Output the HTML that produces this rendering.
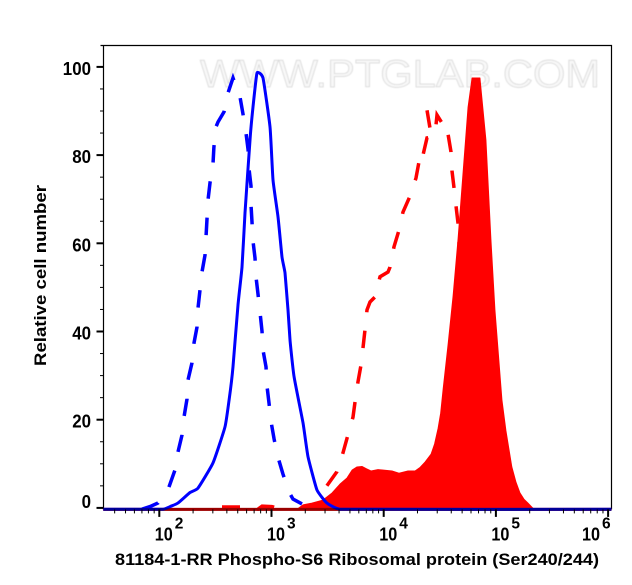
<!DOCTYPE html>
<html>
<head>
<meta charset="utf-8">
<style>
html,body{margin:0;padding:0;background:#fff;}
svg{display:block;}
text{font-family:"Liberation Sans",Arial,sans-serif;font-weight:bold;fill:#000;}
</style>
</head>
<body>
<svg id="chart" width="632" height="585" viewBox="0 0 632 585" xmlns="http://www.w3.org/2000/svg">
  <rect x="0" y="0" width="632" height="585" fill="#fff"/>
  <g id="watermark-layer">
    <text x="200" y="87" font-size="39" textLength="400" lengthAdjust="spacingAndGlyphs" style="font-weight:normal;fill:#f8f8f8;stroke:#d6d6d6;stroke-width:.7;filter:blur(.4px)">WWW.PTGLAB.COM</text>
  </g>
  <g id="series-layer"></g>
  <g id="axis-layer"></g>
  <text x="115" y="565" font-size="17" textLength="484" lengthAdjust="spacingAndGlyphs">81184-1-RR Phospho-S6 Ribosomal protein (Ser240/244)</text>
  <text transform="translate(46,366) rotate(-90)" font-size="17" textLength="181" lengthAdjust="spacingAndGlyphs">Relative cell number</text>
</svg>
<script>
// Data: log10 fluorescence intensity and relative cell number
const filledLog = [1.5,3.227,3.281,3.361,3.459,3.539,3.61,3.673,3.718,3.762,3.807,3.847,3.887,3.949,4.074,4.136,4.217,4.279,4.324,4.368,4.422,4.453,4.484,4.507,4.529,4.573,4.618,4.662,4.707,4.751,4.787,4.858,4.912,4.956,4.992,5.054,5.09,5.143,5.18,5.215,5.25,5.286,5.339,6.03];
const filledCount = [-0.3,-0.3,0.7,1.1,1.8,3.4,5.4,6.8,8.6,9.3,9.4,8.9,8.4,8.7,8.4,7.9,8.4,8.4,9.2,10.4,12.2,14.5,18,21.5,27,37,48,61,76,90.9,97.5,97.5,83.4,60.8,44.9,24.5,17.5,9.3,5.8,3.4,2,1.1,-0.3,-0.3];
const solidBlueLog = [1.5,2.033,2.096,2.167,2.274,2.345,2.479,2.586,2.622,2.657,2.701,2.737,2.764,2.808,2.835,2.871,2.924,2.987,3.013,3.058,3.094,3.12,3.147,3.165,3.201,3.281,3.325,3.405,3.494,3.61,6.03];
const solidBlueCount = [-0.3,-0.3,0.3,1.1,3.5,4.5,10.2,18.4,24.5,32,46,54.6,66.9,83.4,90.9,98.6,97.5,86.4,74.4,66,56.9,53.3,44.9,38.1,29.7,19.3,11.6,4.1,1.1,-0.3,-0.3];
const dashedBlueLog = [1.846,1.917,1.988,2.086,2.14,2.167,2.202,2.22,2.247,2.256,2.291,2.309,2.336,2.345,2.363,2.381,2.407,2.416,2.425,2.434,2.452,2.479,2.487,2.505,2.523,2.577,2.612,2.657,2.719,2.746,2.773,2.791,2.799,2.817,2.817,2.826,2.835,2.853,2.862,2.88,2.898,2.915,2.924,2.951,2.96,2.978,2.996,3.023,3.058,3.102,3.156,3.192,3.272];
const dashedBlueCount = [-0.3,0.3,1.1,4.7,8.6,12.7,16.5,20.6,24.7,29,32.9,37.4,41,45.3,49.4,53.5,57.3,61.4,65.5,69.8,73.7,78,81.8,86.4,87.5,89.8,94.1,97.5,93.2,89.3,85,81.2,77.1,73,68.7,64.8,60.5,56.7,52.4,48.5,44.2,40.1,35.8,32,27.6,23.8,19.5,15.6,11.5,7.7,3.6,2,0.9];
const redBaselineLog = [2.559,2.737,2.764,2.88,2.916,3.004,3.058];
const redBaselineCount = [0.2,0.2,-0.3,-0.3,0.4,0.3,-0.1];
const dashedRedLog = [3.494,3.583,3.637,3.682,3.726,3.744,3.771,3.798,3.816,3.833,3.851,3.878,3.922,3.967,4.038,4.056,4.092,4.136,4.172,4.234,4.288,4.315,4.359,4.35,4.386,4.466,4.413,4.386,4.466,4.475,4.502,4.52,4.6,4.573,4.6,4.609,4.627,4.645,4.662,4.671,4.725,4.858,4.992,5.125];
const dashedRedCount = [5,8.2,12.5,16.6,20.6,24,28.6,32.4,36.5,40.4,44.9,46.7,47.8,52.4,53.5,54.6,59.2,63,67.1,70.7,74.8,78.5,77.8,80,83.9,84.3,86.1,90.2,86.8,89.1,88,87.3,85.7,84.8,80.7,76.4,72.6,68.3,64.6,60.1,38,13,1.8,-0.3];
const yTickValues = [0,20,40,60,80,100];
const yMinorValues = [5,10,15,25,30,35,45,50,55,65,70,75,85,90,95,105];
const xTickExponents = [2,3,4,5,6];
const xMinorMultipliers = [2,3,4,5,6,7,8,9];
const xTickBase = "10";

const NS = "http://www.w3.org/2000/svg";
const xScale = d => 159.3 + (d - 2) * 112.2;
const yScale = v => 507.9 - v * 4.41;
const plotLeft = 103.5, plotRight = 611.5, plotTop = 45.5, plotBottom = 509.4;
const seriesLayer = document.getElementById('series-layer');
const axisLayer = document.getElementById('axis-layer');

function pathFrom(logs, counts) {
  return logs.map((d, i) => (i ? 'L' : 'M') + xScale(d).toFixed(1) + ' ' + yScale(counts[i]).toFixed(1)).join(' ');
}
function smoothFrom(logs, counts) {
  const p = logs.map((d, i) => [xScale(d), yScale(counts[i])]);
  let s = 'M' + p[0][0].toFixed(1) + ' ' + p[0][1].toFixed(1);
  for (let i = 0; i < p.length - 1; i++) {
    const a = p[Math.max(i - 1, 0)], b = p[i], c = p[i + 1], e = p[Math.min(i + 2, p.length - 1)];
    const k = 14;
    const span = c[0] - b[0];
    const c1x = b[0] + Math.min((c[0] - a[0]) / k, span / 3), c1y = b[1] + (c[1] - a[1]) / k;
    const c2x = c[0] - Math.min((e[0] - b[0]) / k, span / 3), c2y = c[1] - (e[1] - b[1]) / k;
    s += ' C' + c1x.toFixed(1) + ' ' + c1y.toFixed(1) + ' ' + c2x.toFixed(1) + ' ' + c2y.toFixed(1) + ' ' + c[0].toFixed(1) + ' ' + c[1].toFixed(1);
  }
  return s;
}
function make(tag, attrs, parent) {
  const el = document.createElementNS(NS, tag);
  for (const k in attrs) el.setAttribute(k, attrs[k]);
  parent.appendChild(el);
  return el;
}

const frame = make('path', {d: `M${plotLeft} ${plotBottom} V${plotTop} M${plotLeft - 3} ${plotTop} H${plotRight} V${plotBottom}`, fill: 'none', stroke: '#000', 'stroke-width': 1.2}, seriesLayer);



const redLine = make('line', {x1: xScale(1.5), x2: xScale(6.03), y1: plotBottom, y2: plotBottom, stroke: '#ff0000', 'stroke-width': 3}, seriesLayer);



const filled = make('path', {d: pathFrom(filledLog, filledCount) + ' Z', fill: '#ff0000', stroke: '#ff0000', 'stroke-width': 0.8, 'stroke-linejoin': 'round'}, seriesLayer);



const dashedBlue = make('path', {d: pathFrom(dashedBlueLog, dashedBlueCount), fill: 'none', stroke: '#0000ff', 'stroke-width': 3.5, 'stroke-dasharray': '17.5 19'}, seriesLayer);



const solidBlue = make('path', {d: smoothFrom(solidBlueLog, solidBlueCount), fill: 'none', stroke: '#0000ff', 'stroke-width': 3, 'stroke-linejoin': 'round'}, seriesLayer);



const redBase = make('path', {d: pathFrom(redBaselineLog, redBaselineCount), fill: 'none', stroke: '#ff0000', 'stroke-width': 3.5, 'stroke-dasharray': '18 18'}, seriesLayer);



const dashedRed = make('path', {d: pathFrom(dashedRedLog, dashedRedCount), fill: 'none', stroke: '#ff0000', 'stroke-width': 3.5, 'stroke-dasharray': '17.5 18.5'}, seriesLayer);



const xAxisLine = make('line', {x1: plotLeft, x2: plotRight, y1: plotBottom, y2: plotBottom, stroke: 'rgba(0,0,0,0.4)', 'stroke-width': 3}, axisLayer);



yTickValues.forEach(v => {
  const y = yScale(v);
  const tick = make('line', {x1: plotLeft - 7, x2: plotLeft, y1: y, y2: y, stroke: '#000', 'stroke-width': 2}, axisLayer);
  
  
  const label = make('text', {x: 91, y: v === 0 ? y : y + 8, 'font-size': 18, 'text-anchor': 'end', textLength: String(v).length * 9.4, lengthAdjust: 'spacingAndGlyphs'}, axisLayer);
  label.textContent = String(v);
  
  
});
yMinorValues.forEach(v => {
  const y = yScale(v);
  if (y < plotTop + 2) return;
  const tick = make('line', {x1: plotLeft - 3.5, x2: plotLeft, y1: y, y2: y, stroke: '#000', 'stroke-width': 1}, axisLayer);
  
  
});

[1].concat(xTickExponents).forEach(e => {
  xMinorMultipliers.forEach(m => {
    const x = xScale(e + Math.log10(m));
    if (x < plotLeft || x > plotRight) return;
    const tick = make('line', {x1: x, x2: x, y1: plotBottom, y2: plotBottom + 4, stroke: '#000', 'stroke-width': 1}, axisLayer);
    
    
  });
});
xTickExponents.forEach(e => {
  const x = xScale(e);
  const tick = make('line', {x1: x, x2: x, y1: plotBottom, y2: plotBottom + 7.5, stroke: '#000', 'stroke-width': 2}, axisLayer);
  
  
  const lx = Math.min(x - 4.5, 582);
  const base = make('text', {x: lx, y: 540.7, 'font-size': 18.5, textLength: 18, lengthAdjust: 'spacingAndGlyphs'}, axisLayer);
  base.textContent = xTickBase;
  
  
  const sup = make('text', {x: lx + 20, y: 528.5, 'font-size': 15.5}, axisLayer);
  sup.textContent = String(e);
  
  
});
</script>
</body>
</html>
